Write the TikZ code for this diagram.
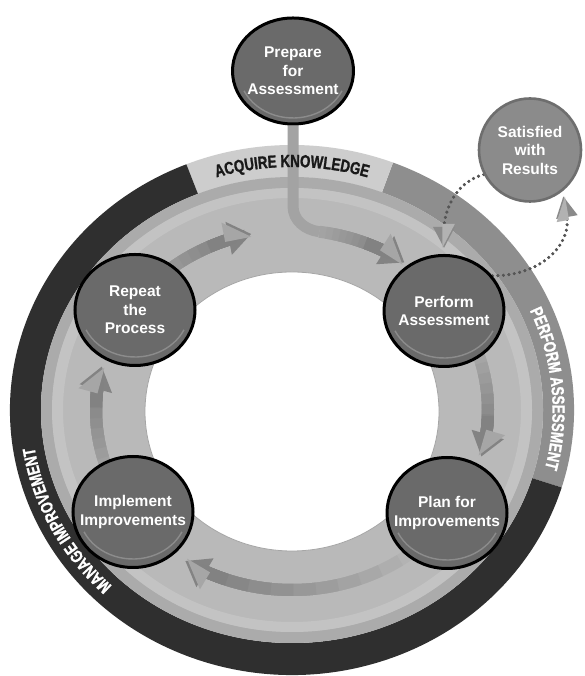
\documentclass[tikz,border=0pt]{standalone}
\usepackage{fontspec}
\setmainfont{Liberation Sans}
\newfontfamily\bandfont[FakeStretch=0.76,FakeBold=1.2]{Liberation Sans}
\usetikzlibrary{calc,arrows.meta,decorations.text,shapes.geometric}
\definecolor{bandDark}{HTML}{2F2F2F}
\definecolor{bandMid}{HTML}{8E8E8E}
\definecolor{bandLight}{HTML}{CDCDCD}
\definecolor{ringMain}{HTML}{B9B9B9}
\definecolor{ringDark}{HTML}{ABABAB}
\definecolor{ringLight}{HTML}{C3C3C3}
\definecolor{arrowDark}{HTML}{828282}
\definecolor{headDark}{HTML}{838383}
\definecolor{headLight}{HTML}{A6A6A6}
\definecolor{stemGray}{HTML}{A3A3A3}
\definecolor{nodeFill}{HTML}{6A6A6A}
\definecolor{rimGray}{HTML}{8C8C8C}
\definecolor{satFill}{HTML}{8B8B8B}
\definecolor{satEdge}{HTML}{6E6E6E}
\definecolor{dotGray}{HTML}{555555}
\definecolor{dheadDark}{HTML}{8A8A8A}
\definecolor{dheadLight}{HTML}{B2B2B2}
\pgfdeclarelayer{bg}
\pgfdeclarelayer{mid}
\pgfsetlayers{bg,mid,main}
\newcommand{\bandlab}{\bandfont\bfseries\fontsize{17.5}{17.5}\selectfont}
\newcommand{\bandseg}[3]{%
  \fill[#3] ($(C)+(#1:282pt and 265pt)$) arc[start angle=#1, end angle=#2, x radius=282pt, y radius=265pt]
    -- ($(C)+(#2:251pt and 233pt)$) arc[start angle=#2, end angle=#1, x radius=251pt, y radius=233pt] -- cycle;}
\newcommand{\trackarrow}[3]{%
  \pgfmathsetmacro\dsg{(#2>#1)?1:-1}%
  \pgfmathsetmacro\sEnd{#2-7*\dsg}%
  \foreach \k in {0,...,9}{%
    \pgfmathsetmacro\aS{#1+(\sEnd-#1)*\k/10}%
    \pgfmathtruncatemacro\pc{#3+(100-#3)*\k/9}%
    \draw[line width=12pt, draw=arrowDark!\pc!ringMain] ($(C)+(\aS:196pt and 180pt)$)
      arc[start angle=\aS, end angle=\sEnd, x radius=196pt, y radius=180pt];
  }%
  \pgfmathsetmacro\hS{#2-13*\dsg}%
  \draw[line width=12pt, arrowDark, -{Triangle[width=32pt,length=23pt,color=headDark]}]
    ($(C)+(\hS:196pt and 180pt)$) arc[start angle=\hS, end angle=#2, x radius=196pt, y radius=180pt];
  \draw[line width=12pt, arrowDark, -{Triangle[width=32pt,length=23pt,left,color=headLight]}]
    ($(C)+(\hS:196pt and 180pt)$) arc[start angle=\hS, end angle=#2, x radius=196pt, y radius=180pt];
}
\tikzset{
  stage/.style={ellipse, draw=black, line width=3pt, fill=nodeFill, minimum width=120pt, minimum height=111pt, inner sep=0pt},
  stagetext/.style={text=white, font=\bfseries\fontsize{15.5}{18.5}\selectfont, align=center, inner sep=0pt},
  satnode/.style={ellipse, draw=satEdge, line width=2.6pt, fill=satFill, minimum width=102pt, minimum height=103pt, inner sep=0pt},
  rim/.style={rimGray, line width=1.4pt},
  dotline/.style={dotGray, line width=3.2pt, line cap=round, dash pattern=on 0pt off 5.5pt},
}
\begin{document}
\begin{tikzpicture}[x=1pt,y=1pt]
\useasboundingbox (0,0) rectangle (584,676);
\coordinate (C) at (292,266);
\coordinate (H) at (292,264.5);

% ---- band labels (above the connector layer)
\path[decorate, decoration={text along path, text align=center, text color=black!90,
   text={|\bandlab|ACQUIRE KNOWLEDGE}}]
   ($(C)+(118:260.5pt and 243pt)$) arc[start angle=118, end angle=62, x radius=260.5pt, y radius=243pt];
\path[decorate, decoration={text along path, text align=center, text color=white,
   text={|\bandlab|PERFORM ASSESSMENT}}]
   ($(C)+(48:260.5pt and 243pt)$) arc[start angle=48, end angle=-38, x radius=260.5pt, y radius=243pt];
\path[decorate, decoration={text along path, text align=center, text color=white,
   text={|\bandlab|MANAGE IMPROVEMENT}}]
   ($(C)+(250:260.5pt and 243pt)$) arc[start angle=250, end angle=164, x radius=260.5pt, y radius=243pt];

% ---- nodes
\node[stage, minimum width=121pt, minimum height=106pt] (prep) at (293,605) {};
\node[stage] (rep)  at (135,366) {};
\node[stage] (perf) at (444,365) {};
\node[stage] (plan) at (447,163) {};
\node[stage] (impl) at (133,164) {};
\node[satnode] (sat) at (530,526) {};
\foreach \n in {prep,rep,perf,plan,impl}{
  \draw[rim] ($(\n.center)+(205:54pt and 47pt)$) arc[start angle=205, end angle=335, x radius=54pt, y radius=47pt];
}
\node[stagetext] (prept) at (prep) {Prepare\\for\\Assessment};
\node[stagetext] (rept)  at (rep)  {Repeat\\the\\Process};
\node[stagetext] (perft) at (perf) {Perform\\Assessment};
\node[stagetext] (plant) at (plan) {Plan for\\Improvements};
\node[stagetext] (implt) at (impl) {Implement\\Improvements};
\node[stagetext] (satt)  at (sat)  {Satisfied\\with\\Results};

% ---- background ring
\begin{pgfonlayer}{bg}
\fill[white] (0,0) rectangle (584,676);
\bandseg{-17}{69}{bandMid}
\bandseg{69}{112}{bandLight}
\bandseg{112}{343}{bandDark}
\fill[ringMain] (C) ellipse [x radius=251pt, y radius=233pt];
\fill[ringDark, even odd rule] (C) ellipse [x radius=251pt, y radius=233pt] (C) ellipse [x radius=240pt, y radius=222pt];
\fill[ringLight, even odd rule] (C) ellipse [x radius=240pt, y radius=222pt] (C) ellipse [x radius=229pt, y radius=212pt];
\fill[white] (H) ellipse [x radius=147pt, y radius=139.5pt];
\draw[black!35, line width=0.8pt] (H) ellipse [x radius=147pt, y radius=139.5pt];
\end{pgfonlayer}

% ---- connectors
\begin{pgfonlayer}{mid}
\trackarrow{140}{102}{35}
\draw[stemGray, line width=11pt] (prep.south) -- (293,470)
   to[out=-90,in=172.6] ($(C)+(82:196pt and 180pt)$);
\trackarrow{82}{55}{40}
\trackarrow{25}{-15}{20}
\trackarrow{-50}{-123}{10}
\trackarrow{205}{166}{30}
\draw[dotline, shorten >=5pt, -{Triangle[width=21pt,length=21pt,color=dheadDark]}] (perf.36) to[out=0,in=-80,looseness=1.2] (sat.-52);
\draw[dotline, shorten >=5pt, -{Triangle[width=21pt,length=21pt,left,color=dheadLight]}] (perf.36) to[out=0,in=-80,looseness=1.2] (sat.-52);
\draw[dotline, shorten >=6pt, -{Triangle[width=21pt,length=21pt,color=dheadDark]}] (sat.208) to[out=195,in=90] (perf.north);
\draw[dotline, shorten >=6pt, -{Triangle[width=21pt,length=21pt,left,color=dheadLight]}] (sat.208) to[out=195,in=90] (perf.north);
\end{pgfonlayer}
\end{tikzpicture}
\end{document}
